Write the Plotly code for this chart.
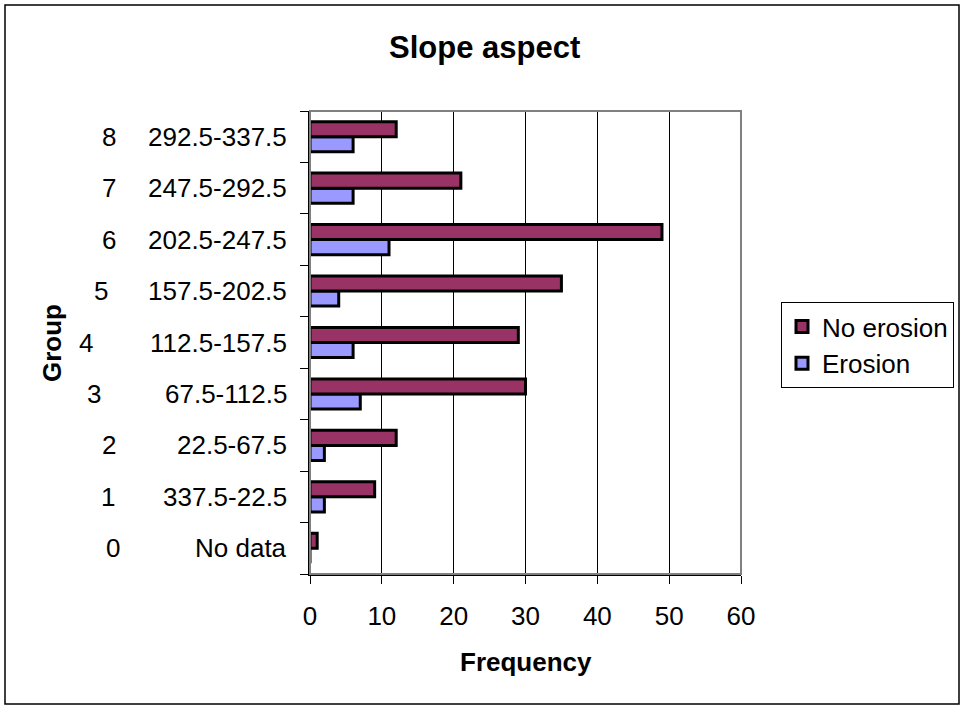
import plotly.graph_objects as go

# ---- data ----
groups = [0, 1, 2, 3, 4, 5, 6, 7, 8]
ranges = ["No data", "337.5-22.5", "22.5-67.5", "67.5-112.5", "112.5-157.5",
          "157.5-202.5", "202.5-247.5", "247.5-292.5", "292.5-337.5"]
no_erosion = [1, 9, 12, 30, 29, 35, 49, 21, 12]
erosion = [0, 2, 2, 7, 6, 4, 11, 6, 6]
x_ticks = [0, 10, 20, 30, 40, 50, 60]

# ---- layout geometry (pixels) ----
W, H = 963, 707
PL, PR, PT, PB = 310, 741, 111, 574
group_label_px = [113, 108, 109, 94, 86, 101, 109, 109, 109]
FONT = "Liberation Sans, Arial, sans-serif"
FS = 26


def px_x(p):
    return (p - PL) / (PR - PL)


def px_y(p):
    return (PB - p) / (PB - PT)


fig = go.Figure()
fig.add_trace(go.Bar(
    y=groups, x=erosion, name="Erosion", orientation="h",
    marker=dict(color="#9999FF", line=dict(color="#000000", width=3)),
))
fig.add_trace(go.Bar(
    y=groups, x=no_erosion, name="No erosion", orientation="h",
    marker=dict(color="#993366", line=dict(color="#000000", width=3)),
))

annotations = []
for g, r, gx in zip(groups, ranges, group_label_px):
    annotations.append(dict(x=px_x(289), xref="paper", y=g, yref="y", text=r,
                            showarrow=False, xanchor="right", yanchor="middle",
                            font=dict(size=FS, color="#000000", family=FONT)))
    annotations.append(dict(x=px_x(gx), xref="paper", y=g, yref="y", text=str(g),
                            showarrow=False, xanchor="center", yanchor="middle",
                            font=dict(size=FS, color="#000000", family=FONT)))

annotations.append(dict(x=px_x(52), xref="paper", y=px_y(343), yref="paper",
                        text="<b>Group</b>", textangle=-90, showarrow=False,
                        xanchor="center", yanchor="middle",
                        font=dict(size=FS, color="#000000", family=FONT)))
annotations.append(dict(x=px_x(526), xref="paper", y=px_y(662), yref="paper",
                        text="<b>Frequency</b>", showarrow=False,
                        xanchor="center", yanchor="middle",
                        font=dict(size=FS, color="#000000", family=FONT)))
annotations.append(dict(x=px_x(484), xref="paper", y=px_y(48), yref="paper",
                        text="<b>Slope aspect</b>", showarrow=False,
                        xanchor="center", yanchor="middle",
                        font=dict(size=31, color="#000000", family=FONT)))

shapes = [
    # outer chart border
    dict(type="rect", xref="paper", yref="paper",
         x0=px_x(5), x1=px_x(959), y0=px_y(5), y1=px_y(704),
         line=dict(color="#000000", width=1.5), layer="below"),
    # plot-area border (grey)
    dict(type="rect", xref="paper", yref="paper", x0=0, x1=1, y0=0, y1=1,
         line=dict(color="#808080", width=2), layer="above"),
]

fig.update_layout(
    width=W, height=H,
    margin=dict(l=PL, r=W - PR, t=PT, b=H - PB, pad=0, autoexpand=False),
    paper_bgcolor="#FFFFFF", plot_bgcolor="#FFFFFF",
    barmode="group", bargap=0.415, bargroupgap=0,
    showlegend=True,
    legend=dict(x=px_x(781), y=px_y(302), xanchor="left", yanchor="top",
                traceorder="reversed", bgcolor="#FFFFFF",
                bordercolor="#000000", borderwidth=1,
                font=dict(size=FS, color="#000000", family=FONT),
                itemwidth=30),
    font=dict(family=FONT, color="#000000"),
    xaxis=dict(range=[0, 60], tickvals=x_ticks, ticktext=[str(v) for v in x_ticks],
               showgrid=True, gridcolor="#000000", gridwidth=1,
               showline=True, linecolor="#000000", linewidth=1.5,
               ticks="outside", ticklen=8, tickcolor="#000000", tickwidth=1,
               ticklabelstandoff=10,
               zeroline=False, tickfont=dict(size=FS, family=FONT, color="#000000"),
               fixedrange=True, automargin=False),
    yaxis=dict(range=[-0.5, 8.5], tickvals=[i - 0.5 for i in range(10)],
               ticktext=[""] * 10, showgrid=False,
               showline=True, linecolor="#000000", linewidth=1.5,
               ticks="outside", ticklen=8, tickcolor="#000000", tickwidth=1,
               zeroline=False, fixedrange=True, automargin=False),
    annotations=annotations,
    shapes=shapes,
)

fig.write_html("out.html")
